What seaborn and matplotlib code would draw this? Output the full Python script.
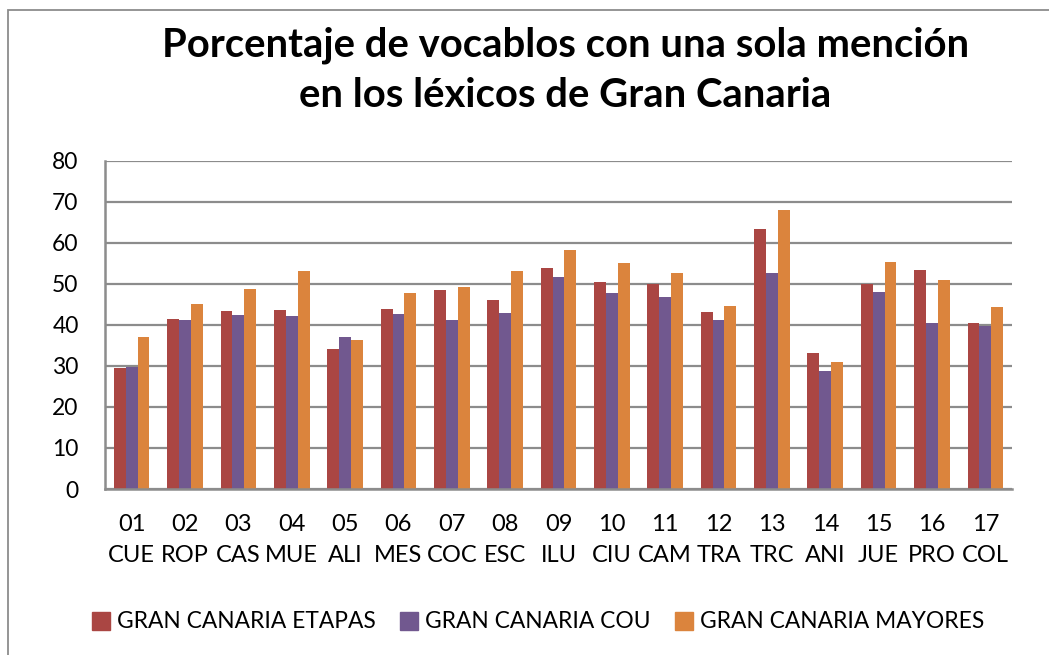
import numpy as np
import pandas as pd
import seaborn as sns
import matplotlib
matplotlib.use("Agg")
import matplotlib.pyplot as plt
from matplotlib.patches import Rectangle
from matplotlib.lines import Line2D

categories = ["01\nCUE", "02\nROP", "03\nCAS", "04\nMUE", "05\nALI", "06\nMES", "07\nCOC",
              "08\nESC", "09\nILU", "10\nCIU", "11\nCAM", "12\nTRA", "13\nTRC", "14\nANI",
              "15\nJUE", "16\nPRO", "17\nCOL"]
series_names = ["GRAN CANARIA ETAPAS", "GRAN CANARIA COU", "GRAN CANARIA MAYORES"]
etapas = [29.6, 41.4, 43.3, 43.7, 34.1, 43.8, 48.6, 46.0, 54.0, 50.4, 50.0, 43.2, 63.5, 33.1, 50.0, 53.5, 40.4]
cou = [29.8, 41.2, 42.4, 42.3, 37.1, 42.8, 41.1, 42.9, 51.7, 47.8, 46.8, 41.1, 52.7, 28.9, 48.0, 40.4, 39.8]
mayores = [37.0, 45.2, 48.9, 53.1, 36.4, 47.8, 49.3, 53.1, 58.3, 55.1, 52.7, 44.7, 68.1, 30.9, 55.4, 50.9, 44.4]
colors = ["#AA4643", "#71588F", "#DB843D"]
yticks = [0, 10, 20, 30, 40, 50, 60, 70, 80]

df = pd.DataFrame({
    "cat": categories * 3,
    "serie": [series_names[0]] * 17 + [series_names[1]] * 17 + [series_names[2]] * 17,
    "val": etapas + cou + mayores,
})

sns.set_theme(style="white")
plt.rcParams['font.family'] = ['Lato', 'DejaVu Sans']
plt.rcParams['text.color'] = 'black'

W, H = 1049, 655
fig = plt.figure(figsize=(W / 100, H / 100), dpi=100)
ax = fig.add_axes([105 / W, 1 - 489 / H, (1012 - 105) / W, (489 - 161) / H])

sns.barplot(data=df, x="cat", y="val", hue="serie", palette=colors, ax=ax,
            width=0.667, saturation=1, legend=False, edgecolor="none", zorder=3)

ax.set_ylim(0, 80)
ax.set_xlim(-0.5, len(categories) - 0.5)
ax.set_yticks(yticks)
ax.set_yticklabels([str(v) for v in yticks])
ax.set_xlabel("")
ax.set_ylabel("")
grid_c = "#8C8C8C"
ax.yaxis.grid(True, color=grid_c, linewidth=1.6, zorder=0)
ax.set_axisbelow(True)
for s in ["top", "right"]:
    ax.spines[s].set_visible(False)
for s in ["left", "bottom"]:
    ax.spines[s].set_color(grid_c)
    ax.spines[s].set_linewidth(1.8)
    ax.spines[s].set_zorder(4)
ax.tick_params(axis="y", length=0, pad=19, labelsize=16.5, labelcolor="black")
ax.tick_params(axis="x", length=0, pad=18, labelsize=17, labelcolor="black")
for lbl in ax.get_xticklabels():
    lbl.set_linespacing(1.6)

fig.text(0.539, 1 - 70 / H, "Porcentaje de vocablos con una sola mención\nen los léxicos de Gran Canaria",
         ha="center", va="center", fontsize=28.8, fontweight="bold", linespacing=1.45,
         color="black")

handles = [Line2D([0], [0], marker="s", linestyle="none", markersize=13,
                  markerfacecolor=c, markeredgecolor=c) for c in colors]
fig.legend(handles, series_names, loc="center", bbox_to_anchor=(0.513, 1 - 622 / H),
           ncol=3, frameon=False, fontsize=16.4, handlelength=0.8, handletextpad=0.3,
           columnspacing=1.05, labelcolor="black")

frame = Rectangle((8 / W, -0.5), 2, 0.5 + (1 - 10 / H), transform=fig.transFigure,
                  fill=False, edgecolor="#8C8C8C", linewidth=1.3)
fig.patches.append(frame)

fig.savefig("out.png", dpi=100)
